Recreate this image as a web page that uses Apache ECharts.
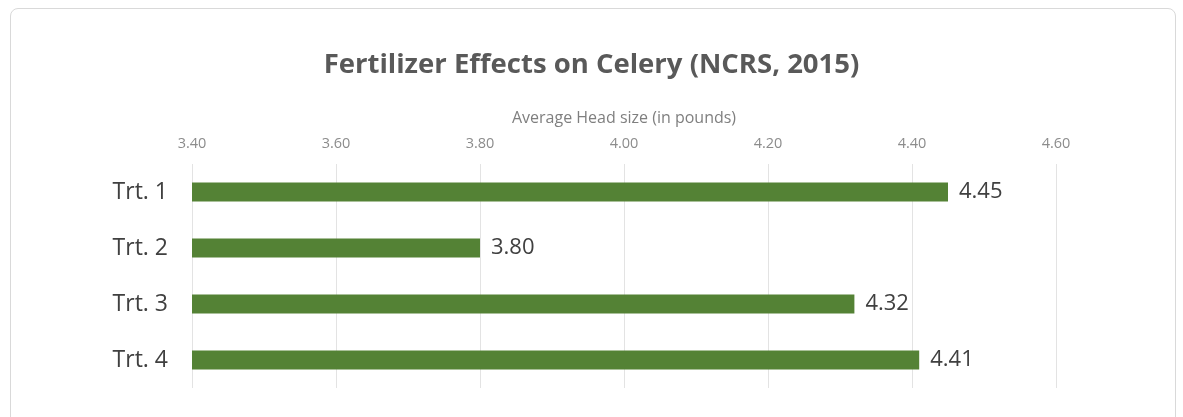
<!DOCTYPE html>
<html><head><meta charset="utf-8">
<script src="https://cdn.jsdelivr.net/npm/echarts@6/dist/echarts.min.js"></script>
<style>
html,body{margin:0;padding:0;background:#fff;width:1183px;height:417px;overflow:hidden;}
#frame{position:absolute;left:10px;top:8px;width:1166px;height:440px;border:1.5px solid #d9d9d9;border-radius:8px;box-sizing:border-box;}
#c{position:absolute;left:0;top:0;width:1183px;height:417px;}
</style></head>
<body><div id="frame"></div><div id="c"></div>
<script>
var categories = ["Trt. 1", "Trt. 2", "Trt. 3", "Trt. 4"];
var values = [4.45, 3.80, 4.32, 4.41];
var chartTitle = "Fertilizer Effects on Celery (NCRS, 2015)";
var axisTitle = "Average Head size (in pounds)";

var chart = echarts.init(document.getElementById('c'));
chart.setOption({
  animation: false,
  title: {
    text: chartTitle, left: 'center', top: 46,
    textStyle: {fontFamily: 'Open Sans', fontWeight: 'bold', fontSize: 27.5, color: '#595959'}
  },
  grid: {left: 192, right: 127, top: 164, height: 224},
  xAxis: {
    type: 'value', position: 'top', min: 3.4, max: 4.6, interval: 0.2,
    name: axisTitle, nameLocation: 'middle', nameGap: 38,
    nameTextStyle: {fontFamily: 'Open Sans', fontSize: 16, color: '#7f7f7f'},
    axisLine: {show: false}, axisTick: {show: false},
    axisLabel: {formatter: function(v){return v.toFixed(2);}, margin: 13, fontFamily: 'Open Sans', fontSize: 14.5, color: '#8c8c8c'},
    splitLine: {lineStyle: {color: '#e3e3e3', width: 1}}
  },
  yAxis: {
    type: 'category', data: categories, inverse: true,
    axisLine: {show: false}, axisTick: {show: false},
    axisLabel: {margin: 24, fontFamily: 'Open Sans', fontSize: 23, color: '#404040'}
  },
  series: [{
    type: 'bar', data: values, barWidth: 19,
    itemStyle: {color: '#548235'},
    label: {show: true, position: 'right', distance: 11, formatter: function(p){return p.value.toFixed(2);},
      fontFamily: 'Open Sans', fontSize: 22, color: '#404040'}
  }]
});
</script></body></html>
